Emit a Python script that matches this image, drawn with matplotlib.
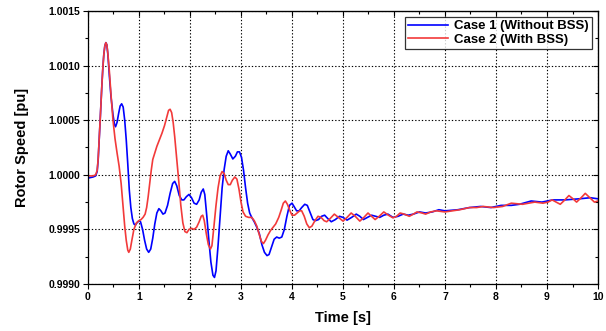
import matplotlib
matplotlib.use("Agg")
from matplotlib import pyplot as plt
from matplotlib.ticker import MultipleLocator, FormatStrFormatter

# (time in s, rotor speed in pu)
t_case1 = [0.0, 0.1, 0.15, 0.18, 0.20, 0.22, 0.245, 0.27, 0.29, 0.31, 0.33, 0.35,
           0.37, 0.39, 0.42, 0.45, 0.49, 0.52, 0.54, 0.57, 0.60, 0.63, 0.66, 0.69,
           0.72, 0.75, 0.78, 0.81, 0.84, 0.87, 0.90, 0.93, 0.96, 1.00, 1.03, 1.07,
           1.11, 1.15, 1.19, 1.23, 1.27, 1.31, 1.35, 1.39, 1.43, 1.47, 1.51, 1.56,
           1.61, 1.66, 1.70, 1.74, 1.79, 1.84, 1.88, 1.93, 1.98, 2.03, 2.08, 2.13,
           2.18, 2.22, 2.26, 2.29, 2.33, 2.37, 2.41, 2.45, 2.48, 2.51, 2.55, 2.59,
           2.63, 2.67, 2.71, 2.75, 2.79, 2.84, 2.89, 2.93, 2.97, 3.01, 3.05, 3.09,
           3.13, 3.17, 3.21, 3.26, 3.31, 3.36, 3.41, 3.46, 3.51, 3.55, 3.60, 3.65,
           3.70, 3.75, 3.80, 3.85, 3.90, 3.95, 4.00, 4.04, 4.09, 4.14, 4.19, 4.25,
           4.30, 4.36, 4.41, 4.46, 4.52, 4.58, 4.64, 4.70, 4.77, 4.85, 4.93, 5.00,
           5.08, 5.17, 5.26, 5.33, 5.40, 5.48, 5.56, 5.64, 5.72, 5.80, 5.88, 5.98,
           6.08, 6.18, 6.28, 6.38, 6.50, 6.62, 6.75, 6.88, 7.0, 7.25, 7.48, 7.70,
           7.90, 8.10, 8.30, 8.46, 8.69, 8.90, 9.11, 9.35, 9.63, 9.85, 10.0]
w_case1 = [0.99997, 0.99998, 0.99999, 1.00003, 1.00014, 1.00032, 1.00056, 1.00080,
           1.00097, 1.00110, 1.00118, 1.00121, 1.00119, 1.00110, 1.00090, 1.00072,
           1.00055, 1.00046, 1.00044, 1.00048, 1.00056, 1.00063, 1.00065, 1.00062,
           1.00050, 1.00032, 1.00010, 0.99986, 0.99970, 0.99960, 0.99955, 0.99954,
           0.99956, 0.99958, 0.99957, 0.99950, 0.99940, 0.99932, 0.99929, 0.99932,
           0.99942, 0.99955, 0.99965, 0.99969, 0.99967, 0.99964, 0.99965, 0.99972,
           0.99983, 0.99992, 0.99994, 0.99990, 0.99981, 0.99977, 0.99977, 0.99980,
           0.99982, 0.99979, 0.99974, 0.99973, 0.99977, 0.99984, 0.99987, 0.99982,
           0.99962, 0.99940, 0.99920, 0.99908, 0.99906, 0.99912, 0.99935, 0.99962,
           0.99988, 1.00005, 1.00017, 1.00022, 1.00019, 1.000145, 1.00017, 1.00021,
           1.00021, 1.00016, 1.00004, 0.99988, 0.99974, 0.99965, 0.99961, 0.99957,
           0.99952, 0.99946, 0.99936, 0.99929, 0.99926, 0.99927, 0.99934, 0.99941,
           0.99943, 0.99942, 0.99943, 0.99950, 0.99962, 0.99972, 0.99974, 0.99971,
           0.99967, 0.99967, 0.99970, 0.99973, 0.99972, 0.99965, 0.99959, 0.99958,
           0.99959, 0.99962, 0.99963, 0.99960, 0.99957, 0.99959, 0.99962, 0.99961,
           0.999585, 0.99961, 0.99964, 0.99962, 0.99959, 0.99961, 0.99963, 0.99962,
           0.99961, 0.99963, 0.99964, 0.99961, 0.99962, 0.99964, 0.99963, 0.99964,
           0.99966, 0.99965, 0.99966, 0.99968, 0.99967, 0.99968, 0.99970, 0.99971,
           0.99970, 0.99972, 0.99972, 0.99973, 0.99976, 0.99975, 0.99977, 0.99977,
           0.99978, 0.99979, 0.99978]

t_case2 = [0.0, 0.1, 0.15, 0.18, 0.20, 0.22, 0.245, 0.27, 0.29, 0.31, 0.33, 0.35,
           0.37, 0.39, 0.42, 0.455, 0.49, 0.53, 0.57, 0.61, 0.65, 0.69, 0.72, 0.75,
           0.78, 0.80, 0.83, 0.86, 0.90, 0.95, 1.00, 1.04, 1.08, 1.12, 1.15, 1.18,
           1.21, 1.24, 1.27, 1.31, 1.35, 1.40, 1.45, 1.50, 1.54, 1.58, 1.61, 1.64,
           1.67, 1.70, 1.74, 1.78, 1.82, 1.86, 1.90, 1.94, 1.98, 2.03, 2.08, 2.13,
           2.18, 2.22, 2.25, 2.28, 2.32, 2.36, 2.40, 2.43, 2.47, 2.51, 2.55, 2.59,
           2.63, 2.67, 2.71, 2.75, 2.79, 2.83, 2.88, 2.92, 2.96, 3.00, 3.04, 3.09,
           3.15, 3.21, 3.26, 3.31, 3.36, 3.40, 3.44, 3.48, 3.53, 3.58, 3.63, 3.68,
           3.74, 3.79, 3.83, 3.87, 3.91, 3.96, 4.00, 4.05, 4.10, 4.15, 4.19, 4.24,
           4.29, 4.34, 4.39, 4.45, 4.51, 4.57, 4.63, 4.68, 4.75, 4.83, 4.91, 5.00,
           5.08, 5.16, 5.24, 5.33, 5.41, 5.49, 5.56, 5.63, 5.71, 5.80, 5.89, 5.98,
           6.05, 6.12, 6.20, 6.30, 6.38, 6.45, 6.55, 6.62, 6.72, 6.83, 7.00, 7.29,
           7.48, 7.62, 7.75, 7.95, 8.13, 8.30, 8.52, 8.76, 8.92, 9.02, 9.10, 9.18,
           9.26, 9.35, 9.43, 9.51, 9.58, 9.67, 9.75, 9.84, 9.93, 10.0]
w_case2 = [0.99999, 0.99999, 1.00000, 1.00004, 1.00015, 1.00033, 1.00056, 1.00080,
           1.00097, 1.00110, 1.00118, 1.00121, 1.00119, 1.00111, 1.00094, 1.00071,
           1.00050, 1.00033, 1.00020, 1.00008, 0.99992, 0.99970, 0.99953, 0.99940,
           0.99931, 0.99929, 0.99932, 0.99940, 0.99950, 0.99956, 0.99958, 0.99959,
           0.99961, 0.99964, 0.99970, 0.99980, 0.99992, 1.00004, 1.00014, 1.00020,
           1.00026, 1.00032, 1.00038, 1.00045, 1.00052, 1.00059, 1.00060, 1.00057,
           1.00048, 1.00035, 1.00015, 0.99994, 0.99972, 0.99956, 0.99948, 0.99947,
           0.99950, 0.99951, 0.99950, 0.99952, 0.99957, 0.99962, 0.99963, 0.99958,
           0.99946, 0.99936, 0.99932, 0.99935, 0.99953, 0.99972, 0.99988, 0.99999,
           1.00003, 1.00001, 0.99995, 0.99991, 0.99991, 0.99995, 0.99998, 0.99996,
           0.99987, 0.99975, 0.99966, 0.99962, 0.99961, 0.99961, 0.99958, 0.99953,
           0.99945, 0.99939, 0.99937, 0.99940, 0.99945, 0.99949, 0.99952, 0.99955,
           0.99961, 0.99968, 0.99974, 0.99976, 0.99973, 0.99967, 0.99963, 0.99963,
           0.99965, 0.99967, 0.99967, 0.99962, 0.99955, 0.999515, 0.99953, 0.99958,
           0.99962, 0.99961, 0.99958, 0.99957, 0.99960, 0.99964, 0.99961, 0.999576,
           0.99961, 0.99965, 0.99962, 0.999576, 0.99961, 0.99965, 0.99962, 0.99959,
           0.99962, 0.99966, 0.99963, 0.999606, 0.99962, 0.99965, 0.99964, 0.99962,
           0.99964, 0.99966, 0.99965, 0.99964, 0.99966, 0.99967, 0.99966, 0.99968,
           0.99970, 0.99970, 0.99971, 0.99970, 0.99971, 0.99974, 0.99973, 0.99975,
           0.99974, 0.99975, 0.99977, 0.99975, 0.99973, 0.99977, 0.99981, 0.99978,
           0.99975, 0.99979, 0.99983, 0.99979, 0.99975, 0.99976]

x_ticks = [0, 1, 2, 3, 4, 5, 6, 7, 8, 9, 10]


def main():
    plt.rcParams['font.family'] = ['Liberation Sans', 'DejaVu Sans']
    plt.rcParams['font.weight'] = 'bold'

    fig = plt.figure(figsize=(6.06, 3.31), dpi=100)
    ax = fig.add_axes([0.1452, 0.142, 0.8416, 0.8248])

    ax.plot(t_case1, w_case1, color='#0000ff', linewidth=1.2, label='Case 1 (Without BSS)')
    ax.plot(t_case2, w_case2, color='#f23a3a', linewidth=1.2, label='Case 2 (With BSS)')

    ax.set_xlim(0, 10)
    ax.set_ylim(0.9990, 1.0015)
    ax.set_xticks(x_ticks)
    ax.xaxis.set_minor_locator(MultipleLocator(0.5))
    ax.yaxis.set_major_locator(MultipleLocator(0.0005))
    ax.yaxis.set_minor_locator(MultipleLocator(0.00025))
    ax.yaxis.set_major_formatter(FormatStrFormatter('%.4f'))

    ax.tick_params(which='both', direction='out', labelsize=7.5, width=0.8,
                   top=False, right=False)
    ax.tick_params(which='major', length=3.5, pad=2)
    ax.tick_params(which='minor', length=2)
    for lbl in ax.get_xticklabels() + ax.get_yticklabels():
        lbl.set_fontweight('bold')

    # mirrored inward ticks on top and right
    ax_top = ax.secondary_xaxis('top')
    ax_top.set_xticks(x_ticks)
    ax_top.xaxis.set_minor_locator(MultipleLocator(0.5))
    ax_top.tick_params(which='both', direction='in', labeltop=False, width=0.8)
    ax_top.tick_params(which='major', length=3.5)
    ax_top.tick_params(which='minor', length=2)
    ax_right = ax.secondary_yaxis('right')
    ax_right.yaxis.set_major_locator(MultipleLocator(0.0005))
    ax_right.yaxis.set_minor_locator(MultipleLocator(0.00025))
    ax_right.tick_params(which='both', direction='in', labelright=False, width=0.8)
    ax_right.tick_params(which='major', length=3.5)
    ax_right.tick_params(which='minor', length=2)

    ax.grid(True, which='major', color='black', linestyle=(0, (1.2, 1.8)), linewidth=0.8)
    for s in ax.spines.values():
        s.set_linewidth(0.9)

    ax.set_xlabel('Time [s]', fontsize=10.5, fontweight='bold', labelpad=7)
    ax.set_ylabel('Rotor Speed [pu]', fontsize=10.5, fontweight='bold', labelpad=14)

    leg = ax.legend(loc='upper right', fontsize=9.5, frameon=True, fancybox=False,
                    borderaxespad=0.45, handlelength=3.0, handletextpad=0.5,
                    borderpad=0.25, labelspacing=0.1)
    leg.get_frame().set_edgecolor('black')
    leg.get_frame().set_linewidth(0.9)
    for txt in leg.get_texts():
        txt.set_fontweight('bold')

    fig.savefig('out.png', dpi=100)


if __name__ == "__main__":
    main()
